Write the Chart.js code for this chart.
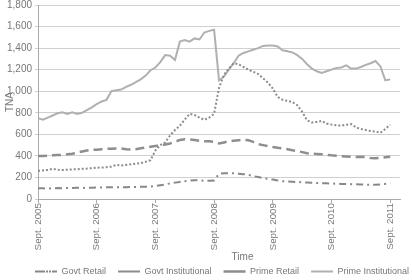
<!DOCTYPE html>
<html>
<head>
<meta charset="utf-8">
<script src="https://cdn.jsdelivr.net/npm/chart.js@4.4.1/dist/chart.umd.min.js"></script>
<style>
  html, body { margin: 0; padding: 0; background: #fff; }
</style>
</head>
<body>
<canvas id="chart" width="412" height="280"></canvas>
<script>
// monthly categories, Sept. 2005 .. Nov. 2011
const months = [
    'Sep 2005', 'Oct 2005', 'Nov 2005', 'Dec 2005',
    'Jan 2006', 'Feb 2006', 'Mar 2006', 'Apr 2006', 'May 2006', 'Jun 2006', 'Jul 2006', 'Aug 2006', 'Sep 2006', 'Oct 2006', 'Nov 2006', 'Dec 2006',
    'Jan 2007', 'Feb 2007', 'Mar 2007', 'Apr 2007', 'May 2007', 'Jun 2007', 'Jul 2007', 'Aug 2007', 'Sep 2007', 'Oct 2007', 'Nov 2007', 'Dec 2007',
    'Jan 2008', 'Feb 2008', 'Mar 2008', 'Apr 2008', 'May 2008', 'Jun 2008', 'Jul 2008', 'Aug 2008', 'Sep 2008', 'Oct 2008', 'Nov 2008', 'Dec 2008',
    'Jan 2009', 'Feb 2009', 'Mar 2009', 'Apr 2009', 'May 2009', 'Jun 2009', 'Jul 2009', 'Aug 2009', 'Sep 2009', 'Oct 2009', 'Nov 2009', 'Dec 2009',
    'Jan 2010', 'Feb 2010', 'Mar 2010', 'Apr 2010', 'May 2010', 'Jun 2010', 'Jul 2010', 'Aug 2010', 'Sep 2010', 'Oct 2010', 'Nov 2010', 'Dec 2010',
    'Jan 2011', 'Feb 2011', 'Mar 2011', 'Apr 2011', 'May 2011', 'Jun 2011', 'Jul 2011', 'Aug 2011', 'Sep 2011', 'Oct 2011', 'Nov 2011'
];

const yearTicks = ['Sept. 2005', 'Sept. 2006', 'Sept. 2007', 'Sept. 2008', 'Sept. 2009', 'Sept. 2010', 'Sept. 2011'];

const govtRetail = [
    100, 99, 98, 100, 101, 100, 102, 103, 104, 103, 104, 105,
    106, 107, 108, 108, 109, 110, 110, 111, 112, 113, 113, 115,
    120, 128, 135, 145, 152, 158, 165, 172, 175, 172, 170, 170,
    172, 235, 240, 240, 238, 235, 230, 225, 212, 205, 195, 187,
    180, 172, 165, 162, 160, 158, 155, 153, 150, 148, 146, 145,
    143, 142, 140, 139, 138, 137, 135, 133, 132, 132, 135, 140,
    145
];

const govtInstitutional = [
    262, 265, 270, 280, 272, 268, 272, 275, 276, 280, 282, 286,
    290, 292, 295, 300, 316, 310, 316, 322, 328, 332, 345, 360,
    450, 500, 525, 590, 640, 680, 737, 790, 780, 755, 735, 755,
    790, 1030, 1150, 1210, 1260, 1250, 1225, 1200, 1180, 1160, 1120, 1080,
    1025, 945, 920, 910, 900, 870, 810, 730, 710, 715, 725, 700,
    690, 685, 680, 690, 695, 665, 650, 640, 630, 625, 615, 650,
    690
];

const primeRetail = [
    400, 400, 402, 405, 408, 410, 415, 420, 430, 440, 450, 455,
    458, 462, 465, 467, 468, 468, 462, 458, 462, 470, 478, 485,
    492, 495, 505, 515, 530, 548, 555, 552, 548, 540, 535, 535,
    530, 515, 525, 535, 540, 545, 550, 545, 530, 510, 500, 490,
    483, 475, 470, 462, 452, 445, 435, 425, 420, 418, 415, 410,
    405, 402, 398, 395, 392, 390, 392, 388, 380, 378, 382, 388,
    392
];

const primeInstitutional = [
    750, 735, 755, 775, 795, 805, 790, 805, 790, 800, 825, 850,
    880, 905, 920, 1000, 1010, 1015, 1040, 1060, 1085, 1110, 1145, 1195,
    1220, 1270, 1335, 1330, 1290, 1460, 1475, 1460, 1490, 1480, 1545, 1560,
    1570, 1100, 1135, 1200, 1260, 1330, 1355, 1370, 1385, 1400, 1420, 1425,
    1425, 1415, 1380, 1370, 1360, 1335, 1300, 1250, 1210, 1185, 1170, 1185,
    1200, 1215, 1220, 1240, 1210, 1210, 1225, 1245, 1260, 1280, 1230, 1100,
    1110
];

const textColor = '#777';
const fontFamily = '"Liberation Sans", Arial, sans-serif';

// x-axis title sits a bit right of centre in the original
const timeTitle = {
    id: 'timeTitle',
    afterDraw(chart) {
        const { ctx, chartArea, scales } = chart;
        ctx.save();
        ctx.fillStyle = textColor;
        ctx.font = '10px ' + fontFamily;
        ctx.textAlign = 'center';
        ctx.textBaseline = 'middle';
        const x = chartArea.left + (chartArea.right - chartArea.left) * 0.565;
        ctx.fillText('Time', x, scales.x.bottom + 2);
        ctx.restore();
    }
};

// legend row starts under the plot, not at the canvas edge
const legendShift = {
    id: 'legendShift',
    afterLayout(chart) {
        chart.legend.left = chart.chartArea.left - 15;
        chart.legend.right = chart.width + 30;
    }
};

const ctx = document.getElementById('chart').getContext('2d');

new Chart(ctx, {
    type: 'line',
    data: {
        labels: months,
        datasets: [
            {
                label: 'Govt Retail',
                data: govtRetail,
                borderColor: '#888',
                backgroundColor: 'transparent',
                borderWidth: 2,
                borderDash: [7, 4, 2, 4]
            },
            {
                label: 'Govt Institutional',
                data: govtInstitutional,
                borderColor: '#8c8c8c',
                backgroundColor: 'transparent',
                borderWidth: 2,
                borderDash: [2, 2]
            },
            {
                label: 'Prime Retail',
                data: primeRetail,
                borderColor: '#8e8e8e',
                backgroundColor: 'transparent',
                borderWidth: 2.5,
                borderDash: [9, 5]
            },
            {
                label: 'Prime Institutional',
                data: primeInstitutional,
                borderColor: '#b0b0b0',
                backgroundColor: 'transparent',
                borderWidth: 2
            }
        ]
    },
    options: {
        responsive: false,
        animation: false,
        layout: { padding: { left: 4, right: 0, top: 0, bottom: -6 } },
        elements: { point: { radius: 0 }, line: { tension: 0 } },
        plugins: {
            tooltip: { enabled: false },
            legend: {
                position: 'bottom',
                align: 'start',
                labels: {
                    boxWidth: 22,
                    boxHeight: 0,
                    padding: 12,
                    color: textColor,
                    font: { family: fontFamily, size: 9 }
                }
            }
        },
        scales: {
            x: {
                afterFit(scale) { scale.height = 56; },
                grid: {
                    drawOnChartArea: false,
                    tickLength: 4,
                    color: c => (c.index % 12 === 0 ? '#aaa' : 'transparent')
                },
                border: { color: '#aaa' },
                ticks: {
                    autoSkip: false,
                    minRotation: 90,
                    maxRotation: 90,
                    padding: 0,
                    color: textColor,
                    font: { family: fontFamily, size: 9.8 },
                    callback: (v, i) => (i % 12 === 0 ? yearTicks[i / 12] : '')
                }
            },
            y: {
                min: 0,
                max: 1800,
                afterFit(scale) {
                    scale.width = 34;
                    scale.paddingTop = 5;
                },
                grid: { color: '#d0d0d0', tickLength: 3 },
                border: { color: '#aaa' },
                title: {
                    display: true,
                    text: 'TNA',
                    color: textColor,
                    padding: 0,
                    font: { family: fontFamily, size: 10 }
                },
                ticks: {
                    stepSize: 200,
                    padding: 3,
                    color: textColor,
                    font: { family: fontFamily, size: 10 },
                    callback: v => v.toLocaleString('en-US')
                }
            },
            // empty strip on the right of the plot
            spacer: {
                type: 'linear',
                position: 'right',
                afterFit(scale) { scale.width = 12; },
                grid: { display: false },
                border: { display: false },
                ticks: { display: false }
            }
        }
    },
    plugins: [timeTitle, legendShift]
});
</script>
</body>
</html>
